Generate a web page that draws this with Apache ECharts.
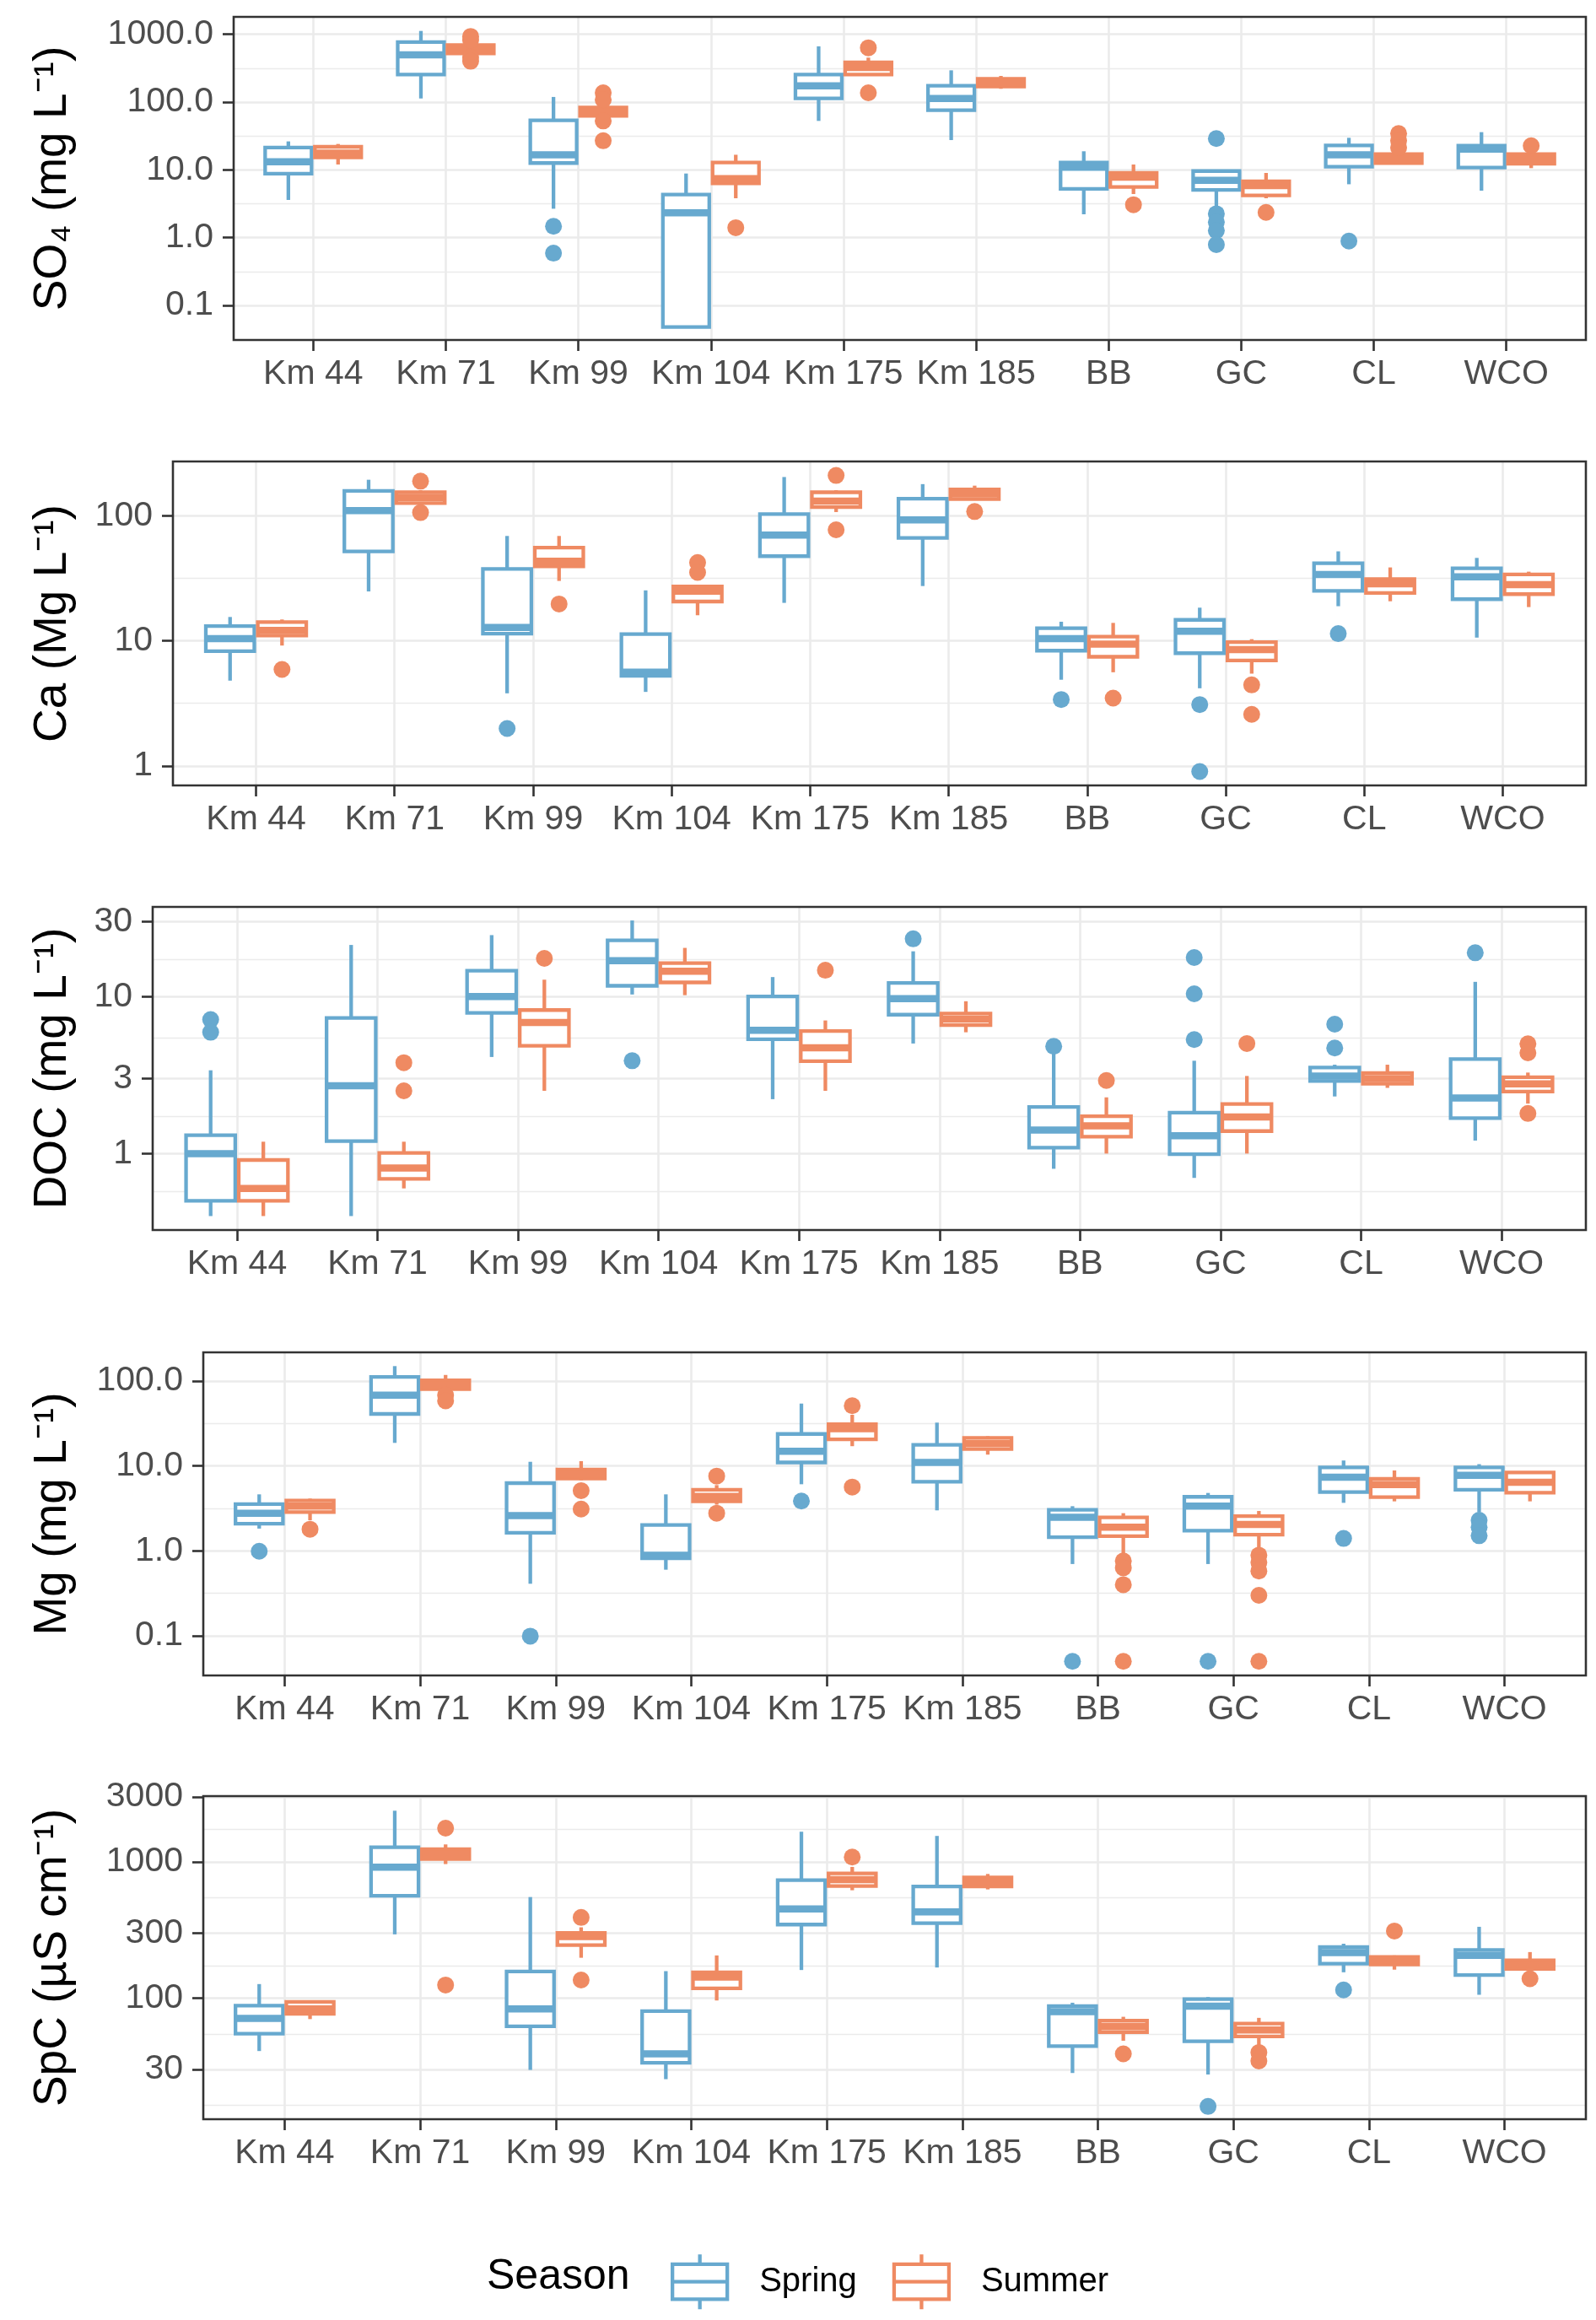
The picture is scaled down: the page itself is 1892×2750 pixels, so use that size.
<!DOCTYPE html>
<html>
<head>
<meta charset="utf-8">
<title>Season boxplots</title>
<script src="https://cdn.jsdelivr.net/npm/echarts@6/dist/echarts.min.js"></script>
<style>
  html, body { margin: 0; padding: 0; background: #fff; }
  #main { width: 1892px; height: 2750px; }
</style>
</head>
<body>
<div id="main"></div>
<script>
// sites along the river, in plotting order
var categories = ['Km 44', 'Km 71', 'Km 99', 'Km 104', 'Km 175', 'Km 185', 'BB', 'GC', 'CL', 'WCO'];

// box stats per site: [lower whisker, Q1, median, Q3, upper whisker]
var so4Spring = [[3.6, 8.8, 13.2, 21.3, 26.3], [113, 255, 497, 766, 1121], [2.67, 12.6, 16.7, 53.7, 119], [0.048, 0.048, 2.32, 4.31, 8.83], [52.7, 113, 174, 255, 664], [27.5, 75.9, 113, 174, 294], [2.21, 5.23, 10.9, 12.8, 18.8], [2.73, 5.07, 7.0, 9.6, 9.8], [6.13, 11.1, 16.7, 22.9, 29.7], [4.93, 10.8, 20.3, 22.7, 36]];
var so4Summer = [[12.0, 15.2, 17.6, 21.9, 24.1], [500, 522, 603, 695, 720], [58, 62.7, 72, 83.4, 90], [3.81, 6.32, 7.43, 12.8, 16.7], [243, 255, 324, 385, 453], [157, 169, 193, 221, 243], [4.4, 5.58, 7.8, 9.0, 12.0], [3.81, 4.19, 5.86, 6.76, 9.0], [12.3, 12.6, 14.5, 17.1, 17.6], [10.6, 12.3, 14.5, 17.1, 17.6]];
// outliers: [site index, value]
var so4SpringOut = [[2, 1.47], [2, 0.59], [7, 28.9], [7, 2.25], [7, 1.69], [7, 1.27], [7, 0.79], [8, 0.89]];
var so4SummerOut = [[1, 930], [1, 820], [1, 460], [1, 400], [2, 137], [2, 108], [2, 52.7], [2, 26.9], [3, 1.40], [4, 632], [4, 137], [6, 3.06], [7, 2.36], [8, 34.3], [8, 26.9], [8, 21.3], [9, 22.7]];

var caSpring = [[4.8, 8.26, 10.4, 13.1, 15.5], [24.8, 51.9, 110, 158, 194], [3.8, 11.4, 12.8, 37.6, 68.9], [3.9, 5.24, 5.6, 11.3, 25.3], [20.1, 47.5, 70, 103, 204], [27.4, 66.4, 92.6, 137, 179], [4.88, 8.34, 10.4, 12.6, 14.2], [4.17, 7.96, 11.9, 14.7, 18.4], [18.9, 25.1, 33.9, 41.7, 51.9], [10.6, 21.5, 32.5, 38, 46]];
var caSummer = [[9.16, 11.0, 12.1, 14.1, 14.8], [125, 126, 140, 154, 160], [30.1, 39.4, 43.3, 55.5, 68.9], [16.0, 20.6, 24.9, 27.2, 27.9], [107, 117, 131, 154, 160], [136, 136, 150, 162, 174], [5.6, 7.45, 9.4, 10.8, 13.9], [5.46, 6.97, 8.5, 9.75, 10.3], [20.7, 24.1, 28.6, 31.2, 38.6], [18.6, 23.6, 28.1, 33.9, 35.7]];
var caSpringOut = [[2, 1.99], [6, 3.39], [7, 3.09], [7, 0.90], [8, 11.4]];
var caSummerOut = [[0, 5.9], [1, 189], [1, 106], [2, 19.7], [3, 42.2], [3, 35.2], [4, 210], [4, 77.2], [5, 108], [6, 3.48], [7, 4.44], [7, 2.58]];

var docSpring = [[0.40, 0.50, 1.0, 1.31, 3.39], [0.40, 1.20, 2.70, 7.31, 21.3], [4.12, 7.87, 10.0, 14.6, 24.6], [10.3, 11.7, 16.9, 22.8, 30.5], [2.22, 5.34, 6.1, 10, 13.3], [5.02, 7.66, 9.68, 12.2, 19.4], [0.80, 1.09, 1.41, 1.98, 4.38], [0.70, 0.99, 1.30, 1.82, 3.9], [2.31, 2.9, 3.12, 3.53, 3.68], [1.21, 1.68, 2.26, 4.0, 12.4]];
var docSummer = [[0.40, 0.50, 0.60, 0.91, 1.19], [0.60, 0.69, 0.81, 1.01, 1.19], [2.51, 4.86, 6.84, 8.2, 12.8], [10.2, 12.3, 14.5, 16.3, 20.4], [2.51, 3.87, 4.72, 6.03, 7.04], [5.92, 6.57, 7.19, 7.8, 9.33], [1.0, 1.28, 1.50, 1.73, 2.28], [1.0, 1.39, 1.71, 2.07, 3.12], [2.62, 2.78, 3.0, 3.26, 3.68], [2.08, 2.48, 2.78, 3.06, 3.28]];
var docSpringOut = [[0, 7.13], [0, 5.92], [3, 3.9], [5, 23.3], [6, 4.82], [7, 17.7], [7, 10.4], [7, 5.32], [8, 6.67], [8, 4.7], [9, 19.0]];
var docSummerOut = [[1, 3.79], [1, 2.51], [2, 17.5], [4, 14.7], [6, 2.92], [7, 5.02], [9, 5.0], [9, 4.38], [9, 1.80]];

var mgSpring = [[1.83, 2.09, 2.78, 3.55, 4.63], [18.7, 41.0, 68.2, 112, 150], [0.41, 1.63, 2.61, 6.28, 11.2], [0.60, 0.82, 0.89, 2.02, 4.63], [6.09, 11.0, 14.9, 23.8, 54.3], [3.0, 6.53, 11.0, 17.7, 32.4], [0.70, 1.45, 2.48, 3.04, 3.36], [0.70, 1.73, 3.36, 4.33, 4.81], [3.68, 4.92, 7.38, 9.6, 11.6], [2.84, 5.24, 7.78, 9.6, 10.5]];
var mgSummer = [[2.29, 2.86, 3.36, 3.92, 4.13], [80, 80.1, 90.5, 102, 118], [6.8, 7.09, 8.07, 9.06, 11.4], [3.5, 3.83, 4.39, 5.24, 5.95], [17.1, 20.6, 27.4, 31.1, 40.1], [13.6, 15.8, 18.4, 21.4, 22.4], [0.89, 1.49, 1.90, 2.48, 2.78], [1.0, 1.55, 2.05, 2.57, 2.95], [3.83, 4.29, 6.04, 7.04, 8.85], [3.83, 4.84, 6.43, 8.4, 8.59]];
var mgSpringOut = [[0, 0.99], [2, 0.099], [4, 3.86], [6, 0.05], [7, 0.05], [8, 1.40], [9, 2.29], [9, 1.90], [9, 1.51]];
var mgSummerOut = [[0, 1.80], [1, 68.2], [1, 58.6], [2, 5.12], [2, 3.11], [3, 7.6], [3, 2.78], [4, 51.2], [4, 5.65], [6, 0.76], [6, 0.63], [6, 0.40], [6, 0.05], [7, 0.89], [7, 0.73], [7, 0.58], [7, 0.30], [7, 0.05]];

var spcSpring = [[41.0, 55.0, 71.1, 88.3, 127], [294, 564, 914, 1280, 2371], [29.8, 62.2, 83.6, 157, 552], [25.5, 33.6, 39.1, 80.4, 158], [161, 347, 451, 735, 1663], [168, 355, 430, 659, 1549], [28.3, 44.6, 79.6, 87.5, 92.7], [27.6, 48.4, 87.5, 98.6, 102], [155, 179, 216, 237, 251], [106, 148, 206, 226, 334]];
var spcSummer = [[70.3, 76.7, 83.6, 94, 94], [963, 1049, 1136, 1238, 1342], [198, 245, 283, 301, 331], [96.3, 118, 143, 155, 206], [619, 665, 741, 823, 918], [628, 659, 714, 770, 815], [48.8, 56.3, 61.9, 68.4, 73.1], [45, 52.5, 58.4, 65.2, 71.8], [162, 177, 190, 201, 206], [160, 164, 177, 190, 218]];
var spcSpringOut = [[7, 16.1], [8, 115]];
var spcSummerOut = [[1, 1765], [1, 125], [2, 391], [2, 136], [4, 1084], [6, 39.1], [7, 40], [7, 34.7], [8, 311], [9, 139]];

// y tick values, major and minor (half-way in log space)
var so4Ticks = [0.1, 1, 10, 100, 1000];
var so4Minor = [0.316, 3.16, 31.6, 316];
var caTicks = [1, 10, 100];
var caMinor = [3.16, 31.6];
var docTicks = [1, 3, 10, 30];
var docMinor = [0.577, 1.73, 5.48, 17.3];
var mgTicks = [0.1, 1, 10, 100];
var mgMinor = [0.316, 3.16, 31.6];
var spcTicks = [30, 100, 300, 1000, 3000];
var spcMinor = [16.4, 54.8, 173, 548, 1733];

var SPRING = '#67A9CF';
var SUMMER = '#EF8A62';
var FONT = '"Liberation Sans", Arial, Helvetica, sans-serif';
var GRID_LINE = '#EBEBEB';

var panels = [
  {title: 'SO\u2084 (mg L\u207B\u00B9)', spring: so4Spring, summer: so4Summer, springOut: so4SpringOut, summerOut: so4SummerOut,
   ticks: so4Ticks, minor: so4Minor, min: 0.0309, max: 1807, digits: 1, left: 277, top: 20, width: 1603, height: 383},
  {title: 'Ca (Mg L\u207B\u00B9)', spring: caSpring, summer: caSummer, springOut: caSpringOut, summerOut: caSummerOut,
   ticks: caTicks, minor: caMinor, min: 0.697, max: 271.6, digits: 0, left: 205, top: 547, width: 1675, height: 384},
  {title: 'DOC (mg L\u207B\u00B9)', spring: docSpring, summer: docSummer, springOut: docSpringOut, summerOut: docSummerOut,
   ticks: docTicks, minor: docMinor, min: 0.326, max: 37.2, digits: 0, left: 181, top: 1075, width: 1699, height: 383},
  {title: 'Mg (mg L\u207B\u00B9)', spring: mgSpring, summer: mgSummer, springOut: mgSpringOut, summerOut: mgSummerOut,
   ticks: mgTicks, minor: mgMinor, min: 0.0341, max: 217.8, digits: 1, left: 241, top: 1603, width: 1639, height: 383},
  {title: 'SpC (\u00B5S cm\u207B\u00B9)', spring: spcSpring, summer: spcSummer, springOut: spcSpringOut, summerOut: spcSummerOut,
   ticks: spcTicks, minor: spcMinor, min: 12.97, max: 3034, digits: 0, left: 241, top: 2129, width: 1639, height: 383}
];

var catIndex = categories.map(function (c, i) { return i; });

//一个季节的箱线图
function boxSeries(stats, season, k) {
  var color = season === 'Spring' ? SPRING : SUMMER;
  var off = season === 'Spring' ? -0.1875 : 0.1875;
  return {
    type: 'custom',
    name: season,
    xAxisIndex: k,
    yAxisIndex: 2 * k,
    itemStyle: {color: color},
    encode: {x: 0, y: [1, 2, 3, 4, 5]},
    data: stats.map(function (s, i) { return [i].concat(s); }),
    z: 2,
    renderItem: function (params, api) {
      var x = api.value(0) + off;
      var pMin = api.coord([x, api.value(1)]);
      var pQ1 = api.coord([x, api.value(2)]);
      var pMed = api.coord([x, api.value(3)]);
      var pQ3 = api.coord([x, api.value(4)]);
      var pMax = api.coord([x, api.value(5)]);
      var cx = pMed[0];
      var halfW = api.coord([x + 0.175, api.value(3)])[0] - cx;
      var lw = 4.3;
      return {
        type: 'group',
        children: [
          {type: 'line', shape: {x1: cx, y1: pMax[1], x2: cx, y2: pQ3[1]}, style: {stroke: color, lineWidth: lw}},
          {type: 'line', shape: {x1: cx, y1: pQ1[1], x2: cx, y2: pMin[1]}, style: {stroke: color, lineWidth: lw}},
          {type: 'rect', shape: {x: cx - halfW, y: pQ3[1], width: 2 * halfW, height: pQ1[1] - pQ3[1]},
           style: {fill: '#fff', stroke: color, lineWidth: lw}},
          {type: 'line', shape: {x1: cx - halfW, y1: pMed[1], x2: cx + halfW, y2: pMed[1]},
           style: {stroke: color, lineWidth: 8.5}}
        ]
      };
    }
  };
}

//离群点
function outlierSeries(outs, season, k) {
  var off = season === 'Spring' ? -0.1875 : 0.1875;
  return {
    type: 'scatter',
    name: season,
    xAxisIndex: k,
    yAxisIndex: 2 * k,
    symbol: 'circle',
    symbolSize: 20,
    itemStyle: {color: season === 'Spring' ? SPRING : SUMMER, opacity: 1},
    data: outs.map(function (o) { return [o[0] + off, o[1]]; }),
    z: 3
  };
}

var grids = [], xAxes = [], yAxes = [], series = [];
panels.forEach(function (p, k) {
  grids.push({left: p.left, top: p.top, width: p.width, height: p.height,
    show: true, borderColor: '#333333', borderWidth: 2.6, backgroundColor: 'transparent', z: 5});
  xAxes.push({
    type: 'value', gridIndex: k, min: -0.6, max: 9.6, position: 'bottom',
    axisLine: {show: false, onZero: false},
    axisTick: {show: true, length: 13, customValues: catIndex, lineStyle: {color: '#333333', width: 2.6}},
    axisLabel: {customValues: catIndex, margin: 20, fontSize: 41, color: '#4D4D4D', fontFamily: FONT,
      formatter: function (v) { return categories[Math.round(v)]; }},
    splitLine: {show: true, lineStyle: {color: GRID_LINE, width: 2.6}}
  });
  yAxes.push({
    type: 'log', logBase: 10, gridIndex: k, min: p.min, max: p.max, position: 'left',
    axisLine: {show: false, onZero: false},
    axisTick: {show: true, length: 13, customValues: p.ticks, lineStyle: {color: '#333333', width: 2.6}},
    axisLabel: {customValues: p.ticks, margin: 24, fontSize: 41, color: '#4D4D4D', fontFamily: FONT,
      formatter: function (v) { return Number(v).toFixed(p.digits); }},
    splitLine: {show: true, lineStyle: {color: GRID_LINE, width: 2.6}},
    name: p.title, nameLocation: 'middle', nameRotate: 90, nameGap: p.left - 90,
    nameTextStyle: {fontSize: 55, color: '#000000', fontFamily: FONT}
  });
  yAxes.push({
    type: 'log', logBase: 10, gridIndex: k, min: p.min, max: p.max, position: 'left',
    axisLine: {show: false, onZero: false},
    axisTick: {show: false, customValues: p.minor},
    axisLabel: {show: false, customValues: p.minor},
    splitLine: {show: true, lineStyle: {color: GRID_LINE, width: 1.3}}
  });
  series.push(boxSeries(p.spring, 'Spring', k));
  series.push(boxSeries(p.summer, 'Summer', k));
  series.push(outlierSeries(p.springOut, 'Spring', k));
  series.push(outlierSeries(p.summerOut, 'Summer', k));
});

var chart = echarts.init(document.getElementById('main'), null, {renderer: 'canvas'});
var option = {
  backgroundColor: '#ffffff',
  animation: false,
  title: {
    text: 'Season', left: 577, top: 2674, padding: 0,
    textStyle: {fontSize: 50, fontWeight: 'normal', color: '#000000', fontFamily: FONT}
  },
  legend: {
    left: 790, top: 2665, itemWidth: 65, itemHeight: 65, itemGap: 42, selectedMode: false,
    icon: 'path://M5,0L5,1.8M0,1.8L10,1.8L10,8.2L0,8.2ZM0,5L10,5M5,8.2L5,10',
    textStyle: {fontSize: 40, color: '#000000', fontFamily: FONT, padding: [0, 0, 0, 33]},
    data: [
      {name: 'Spring', itemStyle: {color: '#ffffff', borderColor: SPRING, borderWidth: 4.3}},
      {name: 'Summer', itemStyle: {color: '#ffffff', borderColor: SUMMER, borderWidth: 4.3}}
    ]
  },
  grid: grids,
  xAxis: xAxes,
  yAxis: yAxes,
  series: series
};
chart.setOption(option);
</script>
</body>
</html>
